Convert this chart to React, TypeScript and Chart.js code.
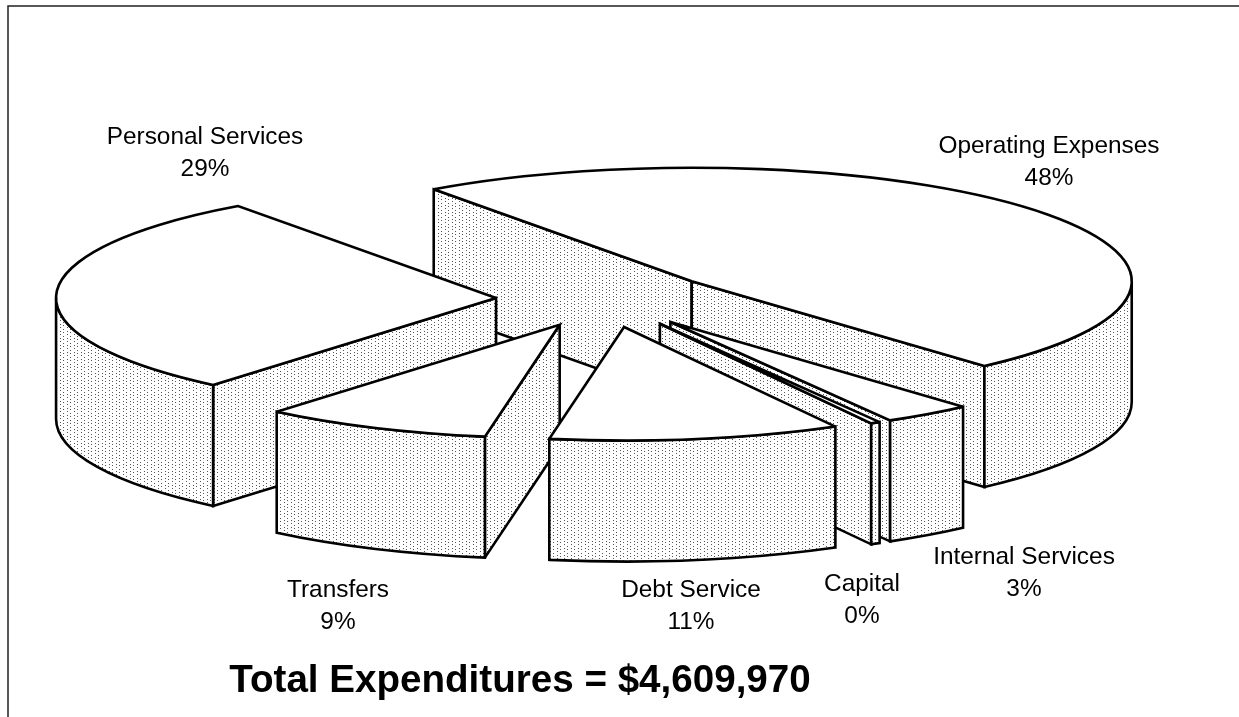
import React, { useEffect, useRef } from "react";
import { Chart, registerables } from "chart.js";

Chart.register(...registerables);

// ---- data ----
const categories = ["Operating Expenses", "Internal Services", "Capital", "Debt Service", "Transfers", "Personal Services"];
const shares = [48.39, 3.26, 0.35, 10.69, 8.4, 28.91];
const percentLabels = ["48%", "3%", "0%", "11%", "9%", "29%"];
const titleText = "Total Expenditures = $4,609,970";

// ---- style / layout ----
const WIDTH = 1239;
const HEIGHT = 717;
const START_DEG = -35.9;
const RADIUS = 440;
const SQUASH = 0.258;
const DEPTH = 121;
const EXPLODE = 0.25;
const LINE = 2.6;
const labelCentres = [
  [1049, 146],
  [1024, 557],
  [862, 584],
  [691, 590],
  [338, 590],
  [205, 137],
];
const LINE_GAP = 32;

function makeStipple(ctx: CanvasRenderingContext2D) {
  const c = document.createElement("canvas");
  c.width = 7;
  c.height = 7;
  const p = c.getContext("2d")!;
  p.fillStyle = "#fff";
  p.fillRect(0, 0, 7, 7);
  p.fillStyle = "#555";
  [[0, 0], [0, 3], [4, 2], [4, 5]].forEach(([x, y]) => p.fillRect(x, y, 1, 1));
  return ctx.createPattern(c, "repeat")!;
}

const pie3d = {
  id: "pie3d",
  beforeDatasetsDraw(chart: any) {
    const ctx: CanvasRenderingContext2D = chart.ctx;
    const stipple = makeStipple(ctx);
    const arcs = chart.getDatasetMeta(0).data as any[];
    const items = arcs.map((a) => {
      const mid = (a.startAngle + a.endAngle) / 2;
      const rx = a.outerRadius;
      const ry = rx * SQUASH;
      return {
        s: a.startAngle,
        e: a.endAngle,
        mid,
        rx,
        ry,
        cx: a.x + Math.cos(mid) * rx * EXPLODE,
        cy: a.y + Math.sin(mid) * ry * EXPLODE,
      };
    });
    items.sort((p, q) => Math.sin(p.mid) - Math.sin(q.mid));

    ctx.save();
    ctx.lineWidth = LINE;
    ctx.strokeStyle = "#000";
    ctx.lineJoin = "miter";
    ctx.miterLimit = 3;

    const paint = () => {
      ctx.fillStyle = stipple;
      ctx.fill();
      ctx.stroke();
    };

    for (const it of items) {
      const { s, e, rx, ry, cx, cy } = it;
      const rim = (t: number) => [cx + Math.cos(t) * rx, cy + Math.sin(t) * ry];

      const wall = (t: number) => {
        const [x, y] = rim(t);
        ctx.beginPath();
        ctx.moveTo(cx, cy);
        ctx.lineTo(x, y);
        ctx.lineTo(x, y + DEPTH);
        ctx.lineTo(cx, cy + DEPTH);
        ctx.closePath();
        paint();
      };
      if (Math.cos(s) < 0) wall(s);
      if (Math.cos(e) > 0) wall(e);

      // outer rim: only the part on the near half of the ellipse shows
      const TAU = Math.PI * 2;
      for (const k of [-1, 0, 1]) {
        const a = Math.max(s, k * TAU);
        const b = Math.min(e, k * TAU + Math.PI);
        if (b > a) {
          ctx.beginPath();
          ctx.ellipse(cx, cy, rx, ry, 0, a, b);
          ctx.ellipse(cx, cy + DEPTH, rx, ry, 0, b, a, true);
          ctx.closePath();
          paint();
        }
      }

      // top face
      ctx.beginPath();
      ctx.moveTo(cx, cy);
      ctx.ellipse(cx, cy, rx, ry, 0, s, e);
      ctx.closePath();
      ctx.fillStyle = "#fff";
      ctx.fill();
      ctx.stroke();
    }
    ctx.restore();
    return false;
  },
  afterDraw(chart: any) {
    const ctx: CanvasRenderingContext2D = chart.ctx;
    ctx.save();
    // page frame (open on the right and at the bottom)
    ctx.strokeStyle = "#222";
    ctx.lineWidth = 1.5;
    ctx.beginPath();
    ctx.moveTo(8, HEIGHT);
    ctx.lineTo(8, 6);
    ctx.lineTo(WIDTH, 6);
    ctx.stroke();

    ctx.fillStyle = "#000";
    ctx.textAlign = "center";
    ctx.textBaseline = "middle";
    ctx.font = '24.4px "Liberation Sans"';
    categories.forEach((name, i) => {
      const [x, y] = labelCentres[i];
      ctx.fillText(name, x, y);
      ctx.fillText(percentLabels[i], x, y + LINE_GAP);
    });
    ctx.font = 'bold 38.6px "Liberation Sans"';
    ctx.fillText(titleText, 520, 681);
    ctx.restore();
  },
};

export default function App() {
  const ref = useRef<HTMLCanvasElement>(null);
  useEffect(() => {
    document.body.style.margin = "0";
    const chart = new Chart(ref.current!, {
      type: "pie",
      data: {
        labels: categories,
        datasets: [{ data: shares, backgroundColor: "#fff", borderColor: "#000", borderWidth: 0 }],
      },
      options: {
        responsive: false,
        animation: false,
        rotation: START_DEG,
        radius: RADIUS,
        layout: { padding: { right: 27, bottom: 119 } },
        plugins: { legend: { display: false }, tooltip: { enabled: false }, title: { display: false } },
      },
      plugins: [pie3d],
    } as any);
    return () => chart.destroy();
  }, []);
  return <canvas ref={ref} width={WIDTH} height={HEIGHT} style={{ display: "block", background: "#fff" }} />;
}
